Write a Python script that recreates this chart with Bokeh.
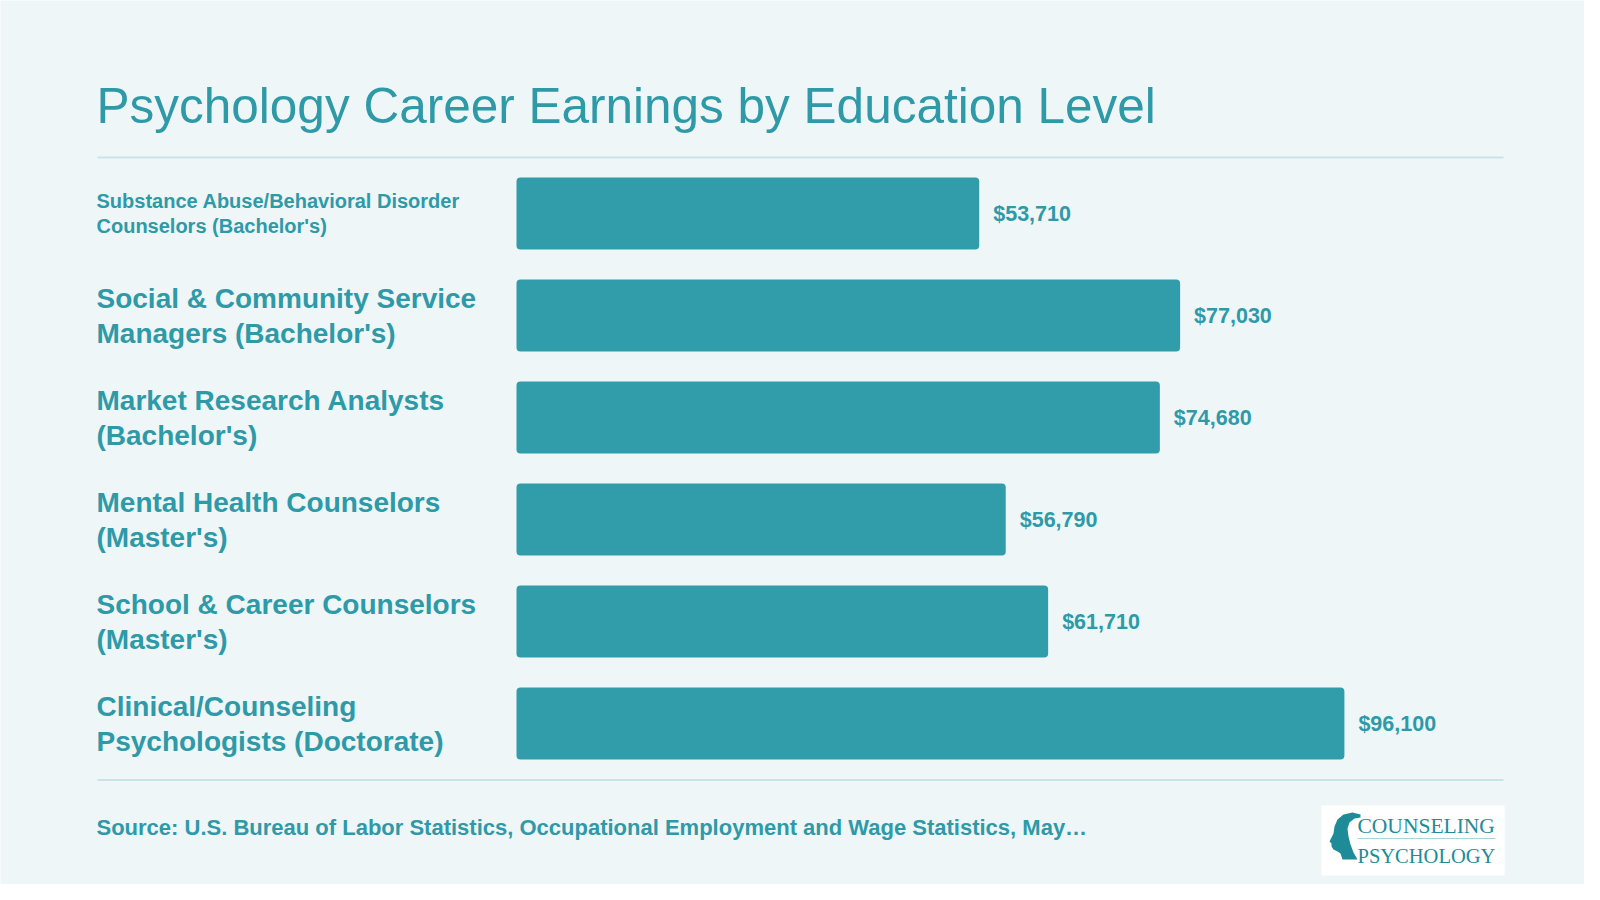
from bokeh.plotting import figure
from bokeh.models import Range1d, ColumnDataSource
from bokeh.embed import file_html
from bokeh.resources import INLINE
from bokeh.core.properties import value

# ---------------- data ----------------
title_text = "Psychology Career Earnings by Education Level"
categories = [
    "Substance Abuse/Behavioral Disorder\nCounselors (Bachelor's)",
    "Social & Community Service\nManagers (Bachelor's)",
    "Market Research Analysts\n(Bachelor's)",
    "Mental Health Counselors\n(Master's)",
    "School & Career Counselors\n(Master's)",
    "Clinical/Counseling\nPsychologists (Doctorate)",
]
earnings = [53710, 77030, 74680, 56790, 61710, 96100]
source_text = "Source: U.S. Bureau of Labor Statistics, Occupational Employment and Wage Statistics, May\u2026"
logo_lines = ["COUNSELING", "PSYCHOLOGY"]

# ---------------- style / layout ----------------
W, H = 1584, 884
BG = "#EEF6F8"
BAR = "#319DAA"
TXT = "#2E9AA8"
RULE = "#C9E4E8"
LOGO = "#1E8C98"
FONT = "Liberation Sans"

X0 = 516            # canvas px of $0
PX_PER = 0.008615   # px per dollar
Y0 = 213            # canvas px of first bar centre
ROW = 102           # px per row

xs = -X0 / PX_PER
xe = (W - X0) / PX_PER
ys = (H - Y0) / ROW
ye = -Y0 / ROW


def dx(px):
    return xs + px / PX_PER


def dy(py):
    return (py - Y0) / ROW


p = figure(width=W, height=H, output_backend="svg", toolbar_location=None,
           x_range=Range1d(xs, xe), y_range=Range1d(ys, ye),
           min_border=0, min_border_left=0, min_border_right=0,
           min_border_top=0, min_border_bottom=0)
p.axis.visible = False
p.grid.visible = False
p.outline_line_color = None
p.background_fill_color = BG
p.border_fill_color = BG

n = len(categories)
rows = list(range(n))
src = ColumnDataSource(dict(
    y=rows,
    earnings=earnings,
    label=["${:,}".format(v) for v in earnings],
))

p.hbar(y="y", left=0, right="earnings", height=72 / ROW, source=src,
       fill_color=BAR, line_color=None, border_radius=4)

p.text(x="earnings", y="y", text="label", source=src, x_offset=14,
       text_baseline="middle", text_align="left",
       text_font=value(FONT), text_font_size="21.5px", text_font_style="bold",
       text_color=TXT)

# category labels (multi-line, left aligned)
cx, cy, ct, cyo, cfs = [], [], [], [], []
for i, cat in enumerate(categories):
    lines = cat.split("\n")
    fs = 20 if max(len(s) for s in lines) > 30 else 28
    lh = fs * 1.25
    for j, line in enumerate(lines):
        cx.append(xs)
        cy.append(i)
        ct.append(line)
        cyo.append((j - (len(lines) - 1) / 2) * lh)
        cfs.append("%dpx" % fs)
csrc = ColumnDataSource(dict(x=cx, y=cy, text=ct, yo=cyo, fs=cfs))
p.text(x="x", y="y", text="text", source=csrc, x_offset=96, y_offset="yo",
       text_baseline="middle", text_align="left",
       text_font=value(FONT), text_font_size="fs", text_font_style="bold",
       text_color=TXT)

# title
p.text(x=[dx(96)], y=[dy(105)], text=[title_text], text_baseline="middle",
       text_align="left", text_font=value(FONT), text_font_size="49.5px",
       text_color=TXT)

# rules
for ry in (157, 779.5):
    p.segment(x0=[dx(97)], x1=[dx(1503)], y0=[dy(ry)], y1=[dy(ry)],
              line_width=2, line_color=RULE)

# source
p.text(x=[dx(96)], y=[dy(826.5)], text=[source_text], text_baseline="middle",
       text_align="left", text_font=value(FONT), text_font_size="22px",
       text_font_style="bold", text_color=TXT)

# logo
p.quad(left=[dx(1321)], right=[dx(1504)], top=[dy(805)], bottom=[dy(875)],
       fill_color="white", line_color=None)
p.text(x=[dx(1357)], y=[dy(825)], text=[logo_lines[0]], text_baseline="middle",
       text_align="left", text_font=value("Liberation Serif"), text_font_size="21.5px",
       text_color=LOGO)
p.text(x=[dx(1357)], y=[dy(855)], text=[logo_lines[1]], text_baseline="middle",
       text_align="left", text_font=value("Liberation Serif"), text_font_size="20.5px",
       text_color=LOGO)
p.segment(x0=[dx(1357)], x1=[dx(1495)], y0=[dy(838)], y1=[dy(838)],
          line_width=1, line_color="#A8D5DA")
# head silhouette
hx = [1360, 1352, 1343, 1337, 1334, 1333, 1331, 1329, 1331, 1331, 1333, 1337, 1340, 1342,
      1357, 1353, 1350, 1348, 1347, 1349, 1354, 1360]
hy = [814, 812, 814, 819, 826, 833, 837, 841, 843, 846, 849, 851, 853, 859,
      859, 852, 844, 836, 828, 822, 818, 817]
p.patch(x=[dx(v) for v in hx], y=[dy(v) for v in hy], fill_color=LOGO, line_color=None)

open("out.html", "w").write(file_html(p, INLINE))
